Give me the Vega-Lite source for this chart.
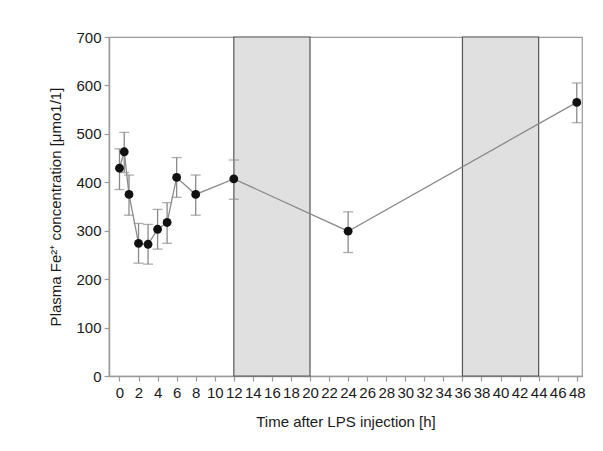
{
  "$schema": "https://vega.github.io/schema/vega-lite/v6.json",
  "width": 473,
  "height": 339,
  "autosize": "none",
  "padding": {"left": 109, "top": 37, "right": 21, "bottom": 75},
  "background": "white",
  "config": {
    "font": "Liberation Sans",
    "view": {"stroke": "#9a9a9a", "strokeWidth": 1.2},
    "axis": {
      "grid": false,
      "domainColor": "#9a9a9a",
      "domainWidth": 1.5,
      "tickColor": "#9a9a9a",
      "tickWidth": 1.2,
      "tickSize": 5,
      "labelFont": "Liberation Sans",
      "labelFontSize": 15,
      "labelColor": "#1a1a1a",
      "titleFont": "Liberation Sans",
      "titleFontSize": 15,
      "titleFontWeight": "normal",
      "titleColor": "#1a1a1a"
    },
    "axisX": {"labelOverlap": false, "labelPadding": 4, "titlePadding": 14},
    "axisY": {"titlePadding": 12, "labelPadding": 3}
  },
  "datasets": {
    "pts": [
      {"t": 0, "mean": 429, "lo": 385, "hi": 469},
      {"t": 0.5, "mean": 463, "lo": 420, "hi": 503},
      {"t": 1, "mean": 375, "lo": 332, "hi": 415},
      {"t": 2, "mean": 274, "lo": 233, "hi": 315},
      {"t": 3, "mean": 272, "lo": 231, "hi": 313},
      {"t": 4, "mean": 303, "lo": 262, "hi": 344},
      {"t": 5, "mean": 317, "lo": 274, "hi": 358},
      {"t": 6, "mean": 410, "lo": 369, "hi": 451},
      {"t": 8, "mean": 375, "lo": 332, "hi": 415},
      {"t": 12, "mean": 407, "lo": 365, "hi": 446},
      {"t": 24, "mean": 299, "lo": 255, "hi": 339},
      {"t": 48, "mean": 565, "lo": 523, "hi": 605}
    ],
    "bands": [
      {"start": 12, "end": 20},
      {"start": 36, "end": 44}
    ]
  },
  "layer": [
    {
      "data": {"name": "bands"},
      "mark": {"type": "rect", "fill": "#e0e0e0", "stroke": "#555555", "strokeWidth": 1.2},
      "encoding": {
        "x": {
          "field": "start",
          "type": "quantitative",
          "scale": {"domain": [-1.1, 48.55], "nice": false, "zero": false},
          "axis": {"values": [0, 2, 4, 6, 8, 10, 12, 14, 16, 18, 20, 22, 24, 26, 28, 30, 32, 34, 36, 38, 40, 42, 44, 46, 48], "title": "Time after LPS injection [h]"}
        },
        "x2": {"field": "end"}
      }
    },
    {
      "data": {"name": "pts"},
      "mark": {"type": "line", "color": "#8a8a8a", "strokeWidth": 1.3},
      "encoding": {
        "x": {"field": "t", "type": "quantitative", "axis": {"values": [0, 2, 4, 6, 8, 10, 12, 14, 16, 18, 20, 22, 24, 26, 28, 30, 32, 34, 36, 38, 40, 42, 44, 46, 48], "title": "Time after LPS injection [h]"}},
        "y": {
          "field": "mean",
          "type": "quantitative",
          "scale": {"domain": [0, 700], "nice": false},
          "axis": {"values": [0, 100, 200, 300, 400, 500, 600, 700], "title": "Plasma Fe²⁺ concentration [μmo1/1]"}
        }
      }
    },
    {
      "data": {"name": "pts"},
      "mark": {"type": "errorbar", "color": "#8a8a8a", "thickness": 1.3, "ticks": {"size": 10, "color": "#8a8a8a", "thickness": 1.3}},
      "encoding": {
        "x": {"field": "t", "type": "quantitative", "axis": {"values": [0, 2, 4, 6, 8, 10, 12, 14, 16, 18, 20, 22, 24, 26, 28, 30, 32, 34, 36, 38, 40, 42, 44, 46, 48], "title": "Time after LPS injection [h]"}},
        "y": {"field": "lo", "type": "quantitative", "axis": {"values": [0, 100, 200, 300, 400, 500, 600, 700], "title": "Plasma Fe²⁺ concentration [μmo1/1]"}},
        "y2": {"field": "hi"}
      }
    },
    {
      "data": {"name": "pts"},
      "mark": {"type": "point", "filled": true, "color": "#111", "size": 78, "opacity": 1},
      "encoding": {
        "x": {"field": "t", "type": "quantitative", "axis": {"values": [0, 2, 4, 6, 8, 10, 12, 14, 16, 18, 20, 22, 24, 26, 28, 30, 32, 34, 36, 38, 40, 42, 44, 46, 48], "title": "Time after LPS injection [h]"}},
        "y": {"field": "mean", "type": "quantitative", "axis": {"values": [0, 100, 200, 300, 400, 500, 600, 700], "title": "Plasma Fe²⁺ concentration [μmo1/1]"}}
      }
    }
  ]
}
